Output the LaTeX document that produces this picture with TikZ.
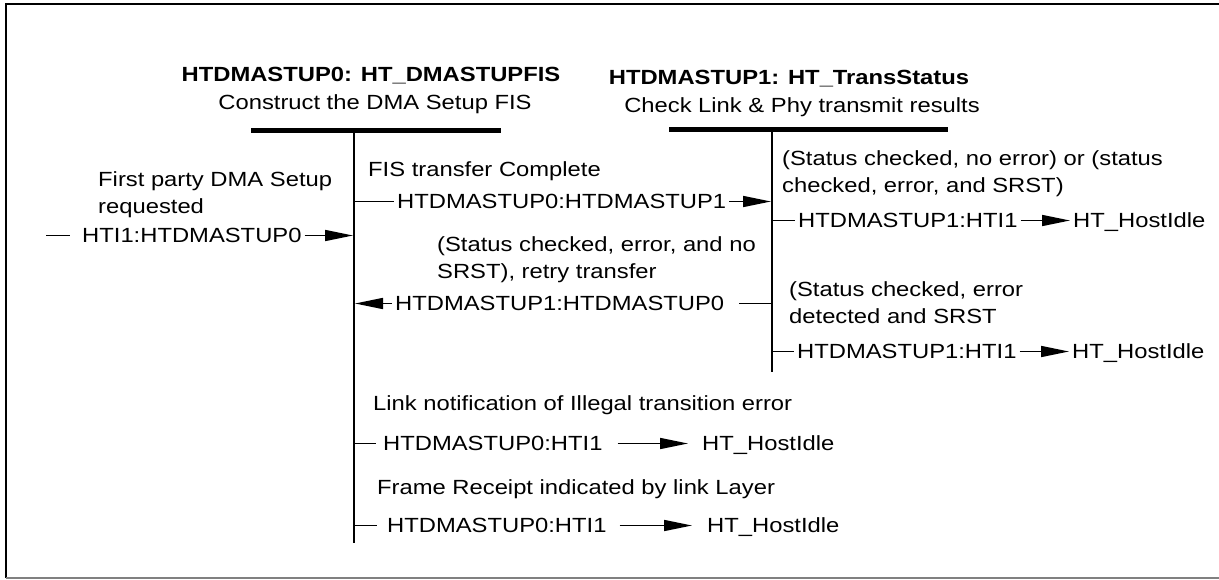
\documentclass[tikz,border=0pt]{standalone}
\usepackage{fontspec}
\setmainfont{Liberation Sans}[FakeStretch=1.16]
\usepackage{tikz}
\usetikzlibrary{arrows.meta}

\begin{document}
\begin{tikzpicture}[
  x=1pt, y=-1pt,
  font=\fontsize{20.5}{26.5}\selectfont,
  >={Triangle[length=28pt,width=11pt]},
  cond/.style  = {anchor=base west, align=left, inner sep=0pt},
  hdr/.style   = {anchor=base, inner sep=0pt},
  trans/.style = {anchor=base west, inner xsep=3pt, inner ysep=0pt,
                  text height=13pt, text depth=0pt},
  bar/.style   = {line width=5pt},
  life/.style  = {line width=1.8pt},
  wire/.style  = {line width=1.6pt},
]
\useasboundingbox (0,0) rectangle (1219,579);
\draw[line width=1.5pt] (6,578) -- (6,4) -- (1230,4);
\draw[line width=1.5pt, gray] (6,578) -- (1230,578);

\node[hdr] (h0)  at (371,81)  {\textbf{HTDMASTUP0: HT\_DMASTUPFIS}};
\node[hdr] (h0d) at (375,109) {Construct the DMA Setup FIS};
\node[hdr] (h1)  at (789,84)  {\textbf{HTDMASTUP1: HT\_TransStatus}};
\node[hdr] (h1d) at (802,112) {Check Link \& Phy transmit results};

\coordinate (s0a) at (251,130);
\coordinate (s0b) at (501,130);
\coordinate (s0t) at (354,130);
\coordinate (s0e) at (354,543);
\coordinate (s1a) at (669,129);
\coordinate (s1b) at (948,129);
\coordinate (s1t) at (772,129);
\coordinate (s1e) at (772,372);
\draw[bar]  (s0a) -- (s0b);
\draw[life] (s0t) -- (s0e);
\draw[bar]  (s1a) -- (s1b);
\draw[life] (s1t) -- (s1e);

\node[cond]  (c_in) at (98,213) {First party DMA Setup\\requested};
\node[trans] (t_in) at (79,242) {HTI1:HTDMASTUP0};
\coordinate (entry) at (46,0);
\draw[wire,shorten >=9pt] (entry |- t_in.west) -- (t_in.west);
\draw[wire,->,shorten >=1pt] (t_in.east) -- (t_in.east -| s0t);

\node[cond]  (c_01) at (368,176) {FIS transfer Complete};
\node[trans] (t_01) at (394,208) {HTDMASTUP0:HTDMASTUP1};
\draw[wire] (t_01.west -| s0t) -- (t_01.west);
\draw[wire,->,shorten >=1pt] (t_01.east) -- (t_01.east -| s1t);

\node[cond]  (c_ok) at (782,192) {(Status checked, no error) or (status\\checked, error, and SRST)};
\node[trans] (t_ok) at (795,227) {HTDMASTUP1:HTI1};
\node[trans] (i_ok) at (1070,227) {HT\_HostIdle};
\draw[wire] (t_ok.west -| s1t) -- (t_ok.west);
\draw[wire,->] (t_ok) -- (i_ok);

\node[cond]  (c_rt) at (437,278) {(Status checked, error, and no\\SRST), retry transfer};
\node[trans] (t_rt) at (392,310) {HTDMASTUP1:HTDMASTUP0};
\draw[wire,->,shorten >=1pt] (t_rt.west) -- (t_rt.west -| s0t);
\draw[wire,shorten >=12pt] (t_rt.east -| s1t) -- (t_rt.east);

\node[cond]  (c_sr) at (789,323) {(Status checked, error\\detected and SRST};
\node[trans] (t_sr) at (794,358) {HTDMASTUP1:HTI1};
\node[trans] (i_sr) at (1069,358) {HT\_HostIdle};
\draw[wire] (t_sr.west -| s1t) -- (t_sr.west);
\draw[wire,->] (t_sr) -- (i_sr);

\node[cond]  (c_il) at (373,410) {Link notification of Illegal transition error};
\node[trans] (t_il) at (380,450) {HTDMASTUP0:HTI1};
\node[trans] (i_il) at (699,450) {HT\_HostIdle};
\draw[wire,shorten >=4pt] (t_il.west -| s0t) -- (t_il.west);
\draw[wire,->,shorten <=12pt,shorten >=11pt] (t_il) -- (i_il);

\node[cond]  (c_fr) at (377,494) {Frame Receipt indicated by link Layer};
\node[trans] (t_fr) at (384,532) {HTDMASTUP0:HTI1};
\node[trans] (i_fr) at (704,532) {HT\_HostIdle};
\draw[wire,shorten >=7pt] (t_fr.west -| s0t) -- (t_fr.west);
\draw[wire,->,shorten <=10pt,shorten >=12pt] (t_fr) -- (i_fr);
\end{tikzpicture}
\end{document}
